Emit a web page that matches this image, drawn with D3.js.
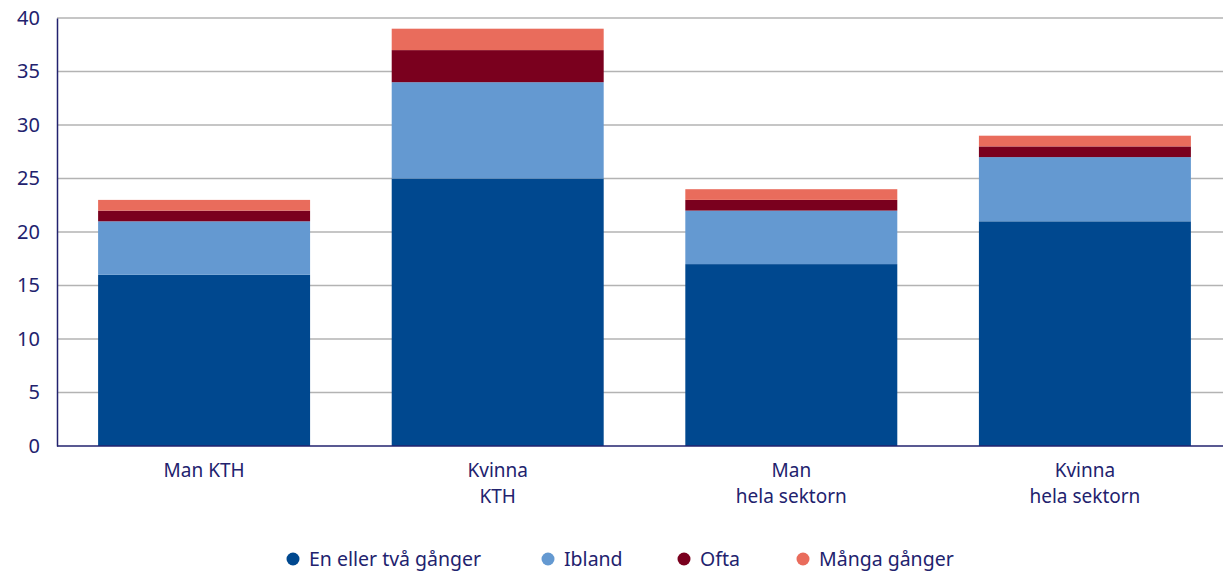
<!DOCTYPE html>
<html>
<head>
<meta charset="utf-8">
<script src="https://cdn.jsdelivr.net/npm/d3@7"></script>
<style>
  body { margin: 0; background: #fff; }
  text { font-family: "Noto Sans", sans-serif; fill: #22226e; }
</style>
</head>
<body>
<div id="chart"></div>
<script>
// Stacked bars, values

var categories = [["Man KTH"], ["Kvinna", "KTH"], ["Man", "hela sektorn"], ["Kvinna", "hela sektorn"]];
var seriesNames = ["En eller två gånger", "Ibland", "Ofta", "Många gånger"];
var enEllerTva = [16, 25, 17, 21];
var ibland = [5, 9, 5, 6];
var ofta = [1, 3, 1, 1];
var mangaGanger = [1, 2, 1, 1];
var yTicks = [0, 5, 10, 15, 20, 25, 30, 35, 40];
var colors = ["#00488f", "#6499d1", "#7a001e", "#e96c5c"];

var width = 1223, height = 571;
var margin = { top: 18, right: 0, bottom: 125, left: 57 };

var svg = d3.select("#chart").append("svg")
    .attr("width", width)
    .attr("height", height);

var rows = categories.map(function(c, i) {
    return { key: i, a: enEllerTva[i], b: ibland[i], c: ofta[i], d: mangaGanger[i] };
});
var keys = ["a", "b", "c", "d"];
var layers = d3.stack().keys(keys)(rows);

// band range runs a bit past the right edge so bars line up with the original
var x = d3.scaleBand()
    .domain(d3.range(categories.length))
    .range([margin.left, width + 9])
    .paddingInner(0.278)
    .paddingOuter(0.14);

var y = d3.scaleLinear()
    .domain([0, 40])
    .range([height - margin.bottom, margin.top]);

// gridlines
svg.append("g").selectAll("line")
    .data(yTicks.slice(1))
  .enter().append("line")
    .attr("x1", margin.left)
    .attr("x2", width)
    .attr("y1", function(d) { return y(d); })
    .attr("y2", function(d) { return y(d); })
    .style("stroke", "#b3b3b3")
    .style("stroke-width", 1.3);

// bars
svg.append("g").selectAll("g")
    .data(layers)
  .enter().append("g")
    .style("fill", function(d, i) { return colors[i]; })
  .selectAll("rect")
    .data(function(d) { return d; })
  .enter().append("rect")
    .attr("x", function(d) { return x(d.data.key); })
    .attr("width", x.bandwidth())
    .attr("y", function(d) { return y(d[1]); })
    .attr("height", function(d) { return y(d[0]) - y(d[1]); });

// y axis
var yAxis = svg.append("g")
    .attr("transform", "translate(" + margin.left + ",0)")
    .call(d3.axisLeft(y).tickValues(yTicks).tickSize(0).tickPadding(17));
yAxis.select(".domain").style("stroke", "#22226e").style("stroke-width", 1.5);
yAxis.selectAll("text").style("font-size", "20px").attr("dy", "0.32em");

// x axis
var xAxis = svg.append("g")
    .attr("transform", "translate(0," + y(0) + ")")
    .call(d3.axisBottom(x).tickSize(0).tickFormat(""));
xAxis.select(".domain").attr("d", "M" + margin.left + ",0H" + width)
    .style("stroke", "#22226e").style("stroke-width", 1.5);

xAxis.selectAll(".tick").each(function(d) {
    var t = d3.select(this).append("text")
        .attr("text-anchor", "middle")
        .style("font-size", "19px");
    categories[d].forEach(function(line, j) {
        t.append("tspan").attr("x", 0).attr("y", 31 + j * 26).text(line);
    });
});

// legend
var legendX = [293, 548, 684, 803];
var legend = svg.append("g").attr("transform", "translate(0,559)");
seriesNames.forEach(function(name, i) {
    var g = legend.append("g").attr("transform", "translate(" + legendX[i] + ",0)");
    g.append("circle").attr("r", 6.5).style("fill", colors[i]);
    g.append("text").attr("x", 16).attr("dy", "0.35em")
        .style("font-size", "19.5px").text(name);
});
</script>
</body>
</html>
